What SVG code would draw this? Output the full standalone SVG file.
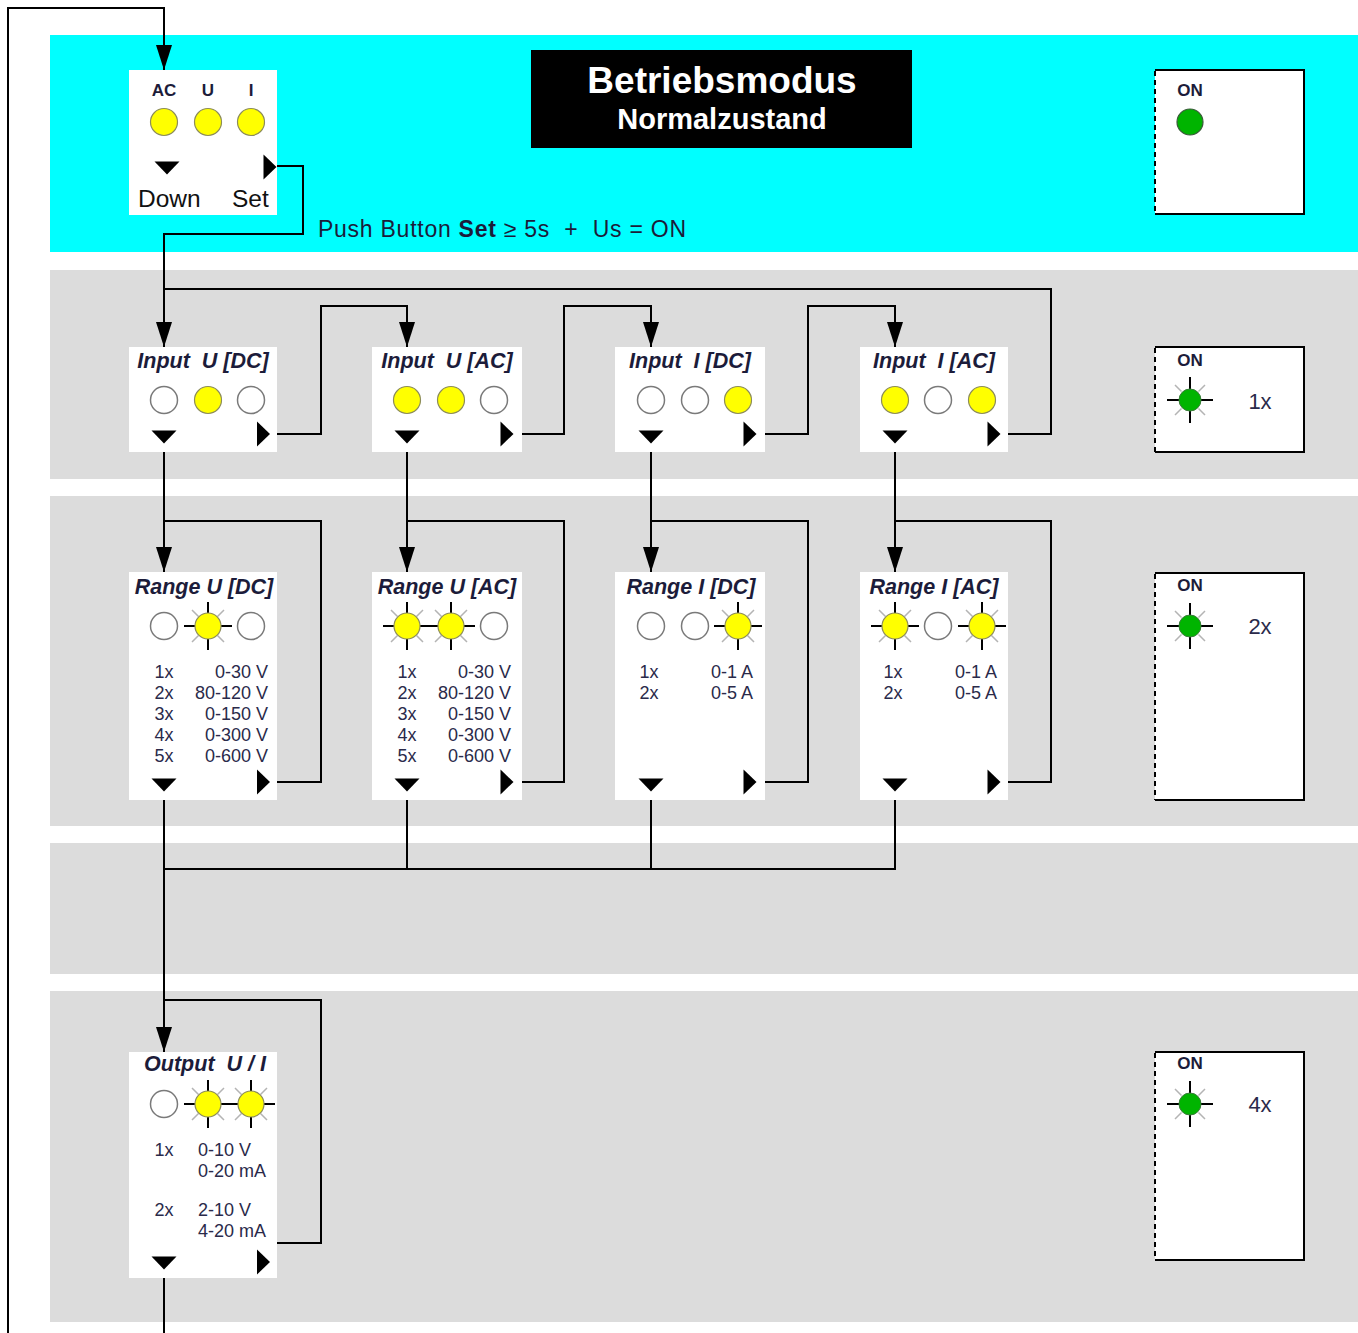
<svg xmlns="http://www.w3.org/2000/svg" xmlns:xlink="http://www.w3.org/1999/xlink" width="1358" height="1333" viewBox="0 0 1358 1333">
<style>
.band{fill:#dcdcdc}
.node{fill:#fff}
.conn{fill:none;stroke:#000;stroke-width:2}
.t{font-family:"Liberation Sans",Arial,sans-serif;fill:#1c1c3a}
.ttl{font-size:21.5px;font-weight:bold;font-style:italic;text-anchor:middle}
.row{font-size:18px;fill:#2a2a4a}
.mid{text-anchor:middle}
.end{text-anchor:end}
.on{font-size:17px;font-weight:bold;text-anchor:middle}
.cnt{font-size:22px;text-anchor:middle;fill:#2a2a4a}
.onbox{fill:#fff}
.solid{fill:none;stroke:#000;stroke-width:2}
.dash{fill:none;stroke:#000;stroke-width:2;stroke-dasharray:5,4}
</style>
<defs>
<marker id="arr" markerUnits="userSpaceOnUse" markerWidth="26" markerHeight="16" refX="25" refY="8" orient="auto">
<path d="M0,0 L25,8 L0,16 z" fill="#000"/>
</marker>
<g id="ledO"><circle r="13.5" fill="#fff" stroke="#7a7a7a" stroke-width="1.5"/></g>
<g id="ledY"><circle r="13.5" fill="#ffff00" stroke="#8c8c5a" stroke-width="1.2"/></g>
<g id="ledYB">
<path d="M9.5,-9.5 L16,-16 M-9.5,-9.5 L-16,-16 M9.5,9.5 L16,16 M-9.5,9.5 L-16,16" stroke="#b4b4b4" stroke-width="1.5"/>
<path d="M0,-13 V-24 M0,13 V24 M-13,0 H-24 M13,0 H24" stroke="#000" stroke-width="2"/>
<circle r="13" fill="#ffff00" stroke="#8c8c5a" stroke-width="1.2"/>
</g>
<g id="ledGB">
<path d="M8.5,-8.5 L15,-15 M-8.5,-8.5 L-15,-15 M8.5,8.5 L15,15 M-8.5,8.5 L-15,15" stroke="#b4b4b4" stroke-width="1.5"/>
<path d="M0,-11 V-23 M0,11 V23 M-11,0 H-23 M11,0 H23" stroke="#000" stroke-width="2"/>
<circle r="11" fill="#00b400" stroke="#3a7a3a" stroke-width="1"/>
</g>
<g id="ledG"><circle r="13" fill="#00b400" stroke="#3a5a3a" stroke-width="1.2"/></g>
<polygon id="triD" points="-12.5,-6.5 12.5,-6.5 0,6.5" fill="#000"/>
<polygon id="triR" points="-6.5,-12.5 -6.5,12.5 6.5,0" fill="#000"/>
</defs>

<rect width="1358" height="1333" fill="#fff"/>
<g id="bands">
<rect x="50" y="35" width="1308" height="217" fill="#00ffff"/>
<rect class="band" x="50" y="270" width="1308" height="209"/>
<rect class="band" x="50" y="496" width="1308" height="330"/>
<rect class="band" x="50" y="843" width="1308" height="131"/>
<rect class="band" x="50" y="991" width="1308" height="331"/>
</g>

<g id="title">
<rect x="531" y="50" width="381" height="98" fill="#000"/>
<text class="t" x="722" y="93" text-anchor="middle" font-size="37" font-weight="bold" style="fill:#fff">Betriebsmodus</text>
<text class="t" x="722" y="129" text-anchor="middle" font-size="29" font-weight="bold" style="fill:#fff">Normalzustand</text>
</g>

<text id="push-label" class="t" x="318" y="237" font-size="23" textLength="368" lengthAdjust="spacing" xml:space="preserve">Push Button <tspan font-weight="bold">Set</tspan> ≥ 5s  +  Us = ON</text>

<g id="connectors">
<path class="conn" d="M8,1333 V8 H164 V70" marker-end="url(#arr)"/>
<path class="conn" d="M277,166 H303 V234 H164 V347" marker-end="url(#arr)"/>
<path class="conn" d="M1008,434 H1051 V289 H164"/>
<path class="conn" d="M277,434 H321 V306 H407 V347" marker-end="url(#arr)"/>
<path class="conn" d="M522,434 H564 V306 H651 V347" marker-end="url(#arr)"/>
<path class="conn" d="M765,434 H808 V306 H895 V347" marker-end="url(#arr)"/>
<path class="conn" d="M164,452 V572" marker-end="url(#arr)"/>
<path class="conn" d="M407,452 V572" marker-end="url(#arr)"/>
<path class="conn" d="M651,452 V572" marker-end="url(#arr)"/>
<path class="conn" d="M895,452 V572" marker-end="url(#arr)"/>
<path class="conn" d="M277,782 H321 V521 H164"/>
<path class="conn" d="M522,782 H564 V521 H407"/>
<path class="conn" d="M765,782 H808 V521 H651"/>
<path class="conn" d="M1008,782 H1051 V521 H895"/>
<path class="conn" d="M164,800 V1052" marker-end="url(#arr)"/>
<path class="conn" d="M407,800 V869"/>
<path class="conn" d="M651,800 V869"/>
<path class="conn" d="M895,800 V869 H164"/>
<path class="conn" d="M277,1243 H321 V1000 H164"/>
<path class="conn" d="M164,1278 V1333"/>
</g>

<g id="node-start">
<rect class="node" x="129" y="70" width="148" height="145"/>
<text class="t on" x="164" y="96">AC</text>
<text class="t on" x="208" y="96">U</text>
<text class="t on" x="251" y="96">I</text>
<use href="#ledY" x="164" y="122"/>
<use href="#ledY" x="208" y="122"/>
<use href="#ledY" x="251" y="122"/>
<use href="#triD" x="167" y="168"/>
<use href="#triR" x="270" y="167"/>
<text class="t" x="138" y="207" font-size="24.5" style="fill:#111">Down</text>
<text class="t" x="232" y="207" font-size="24.5" style="fill:#111">Set</text>
</g>

<g id="on-box-0">
<rect class="onbox" x="1155" y="70" width="150" height="144"/>
<path class="solid" d="M1155,70 H1304 V214 H1155"/>
<path class="dash" d="M1155,71 V214"/>
<text class="t on" x="1190" y="96">ON</text>
<use href="#ledG" x="1190" y="122"/>
</g>

<g id="node-input-u-dc">
<rect class="node" x="129" y="347" width="148" height="105"/>
<text class="t ttl" x="203" y="368" xml:space="preserve">Input  U [DC]</text>
<use href="#ledO" x="164" y="400"/>
<use href="#ledY" x="208" y="400"/>
<use href="#ledO" x="251" y="400"/>
<use href="#triD" x="164" y="437"/>
<use href="#triR" x="263.5" y="434"/>
</g>
<g id="node-input-u-ac">
<rect class="node" x="372" y="347" width="150" height="105"/>
<text class="t ttl" x="447" y="368" xml:space="preserve">Input  U [AC]</text>
<use href="#ledY" x="407" y="400"/>
<use href="#ledY" x="451" y="400"/>
<use href="#ledO" x="494" y="400"/>
<use href="#triD" x="407" y="437"/>
<use href="#triR" x="507" y="434"/>
</g>
<g id="node-input-i-dc">
<rect class="node" x="615" y="347" width="150" height="105"/>
<text class="t ttl" x="690" y="368" xml:space="preserve">Input  I [DC]</text>
<use href="#ledO" x="651" y="400"/>
<use href="#ledO" x="695" y="400"/>
<use href="#ledY" x="738" y="400"/>
<use href="#triD" x="651" y="437"/>
<use href="#triR" x="750" y="434"/>
</g>
<g id="node-input-i-ac">
<rect class="node" x="860" y="347" width="148" height="105"/>
<text class="t ttl" x="934" y="368" xml:space="preserve">Input  I [AC]</text>
<use href="#ledY" x="895" y="400"/>
<use href="#ledO" x="938" y="400"/>
<use href="#ledY" x="982" y="400"/>
<use href="#triD" x="895" y="437"/>
<use href="#triR" x="994" y="434"/>
</g>

<g id="on-box-1">
<rect class="onbox" x="1155" y="347" width="150" height="105"/>
<path class="solid" d="M1155,347 H1304 V452 H1155"/>
<path class="dash" d="M1155,348 V452"/>
<text class="t on" x="1190" y="366">ON</text>
<use href="#ledGB" x="1190" y="400"/>
<text class="t cnt" x="1260" y="409">1x</text>
</g>

<g id="node-range-u-dc">
<rect class="node" x="129" y="572" width="148" height="228"/>
<text class="t ttl" x="204" y="594">Range U [DC]</text>
<use href="#ledO" x="164" y="626"/>
<use href="#ledYB" x="208" y="626"/>
<use href="#ledO" x="251" y="626"/>
<g class="t row">
<text class="mid" x="164" y="678">1x</text><text class="end" x="268" y="678">0-30 V</text>
<text class="mid" x="164" y="699">2x</text><text class="end" x="268" y="699">80-120 V</text>
<text class="mid" x="164" y="720">3x</text><text class="end" x="268" y="720">0-150 V</text>
<text class="mid" x="164" y="741">4x</text><text class="end" x="268" y="741">0-300 V</text>
<text class="mid" x="164" y="762">5x</text><text class="end" x="268" y="762">0-600 V</text>
</g>
<use href="#triD" x="164" y="785"/>
<use href="#triR" x="263.5" y="782"/>
</g>
<g id="node-range-u-ac">
<rect class="node" x="372" y="572" width="150" height="228"/>
<text class="t ttl" x="447" y="594">Range U [AC]</text>
<use href="#ledYB" x="407" y="626"/>
<use href="#ledYB" x="451" y="626"/>
<use href="#ledO" x="494" y="626"/>
<g class="t row">
<text class="mid" x="407" y="678">1x</text><text class="end" x="511" y="678">0-30 V</text>
<text class="mid" x="407" y="699">2x</text><text class="end" x="511" y="699">80-120 V</text>
<text class="mid" x="407" y="720">3x</text><text class="end" x="511" y="720">0-150 V</text>
<text class="mid" x="407" y="741">4x</text><text class="end" x="511" y="741">0-300 V</text>
<text class="mid" x="407" y="762">5x</text><text class="end" x="511" y="762">0-600 V</text>
</g>
<use href="#triD" x="407" y="785"/>
<use href="#triR" x="507" y="782"/>
</g>
<g id="node-range-i-dc">
<rect class="node" x="615" y="572" width="150" height="228"/>
<text class="t ttl" x="691" y="594">Range I [DC]</text>
<use href="#ledO" x="651" y="626"/>
<use href="#ledO" x="695" y="626"/>
<use href="#ledYB" x="738" y="626"/>
<g class="t row">
<text class="mid" x="649" y="678">1x</text><text class="end" x="753" y="678">0-1 A</text>
<text class="mid" x="649" y="699">2x</text><text class="end" x="753" y="699">0-5 A</text>
</g>
<use href="#triD" x="651" y="785"/>
<use href="#triR" x="750" y="782"/>
</g>
<g id="node-range-i-ac">
<rect class="node" x="860" y="572" width="148" height="228"/>
<text class="t ttl" x="934" y="594">Range I [AC]</text>
<use href="#ledYB" x="895" y="626"/>
<use href="#ledO" x="938" y="626"/>
<use href="#ledYB" x="982" y="626"/>
<g class="t row">
<text class="mid" x="893" y="678">1x</text><text class="end" x="997" y="678">0-1 A</text>
<text class="mid" x="893" y="699">2x</text><text class="end" x="997" y="699">0-5 A</text>
</g>
<use href="#triD" x="895" y="785"/>
<use href="#triR" x="994" y="782"/>
</g>

<g id="on-box-2">
<rect class="onbox" x="1155" y="573" width="150" height="227"/>
<path class="solid" d="M1155,573 H1304 V800 H1155"/>
<path class="dash" d="M1155,574 V800"/>
<text class="t on" x="1190" y="591">ON</text>
<use href="#ledGB" x="1190" y="626"/>
<text class="t cnt" x="1260" y="634">2x</text>
</g>

<g id="node-output">
<rect class="node" x="129" y="1052" width="148" height="226"/>
<text class="t ttl" x="205" y="1071" xml:space="preserve">Output  U / I</text>
<use href="#ledO" x="164" y="1104"/>
<use href="#ledYB" x="208" y="1104"/>
<use href="#ledYB" x="251" y="1104"/>
<g class="t row">
<text class="mid" x="164" y="1156">1x</text><text x="198" y="1156">0-10 V</text>
<text x="198" y="1177">0-20 mA</text>
<text class="mid" x="164" y="1216">2x</text><text x="198" y="1216">2-10 V</text>
<text x="198" y="1237">4-20 mA</text>
</g>
<use href="#triD" x="164" y="1263"/>
<use href="#triR" x="263.5" y="1262"/>
</g>

<g id="on-box-3">
<rect class="onbox" x="1155" y="1052" width="150" height="208"/>
<path class="solid" d="M1155,1052 H1304 V1260 H1155"/>
<path class="dash" d="M1155,1053 V1260"/>
<text class="t on" x="1190" y="1069">ON</text>
<use href="#ledGB" x="1190" y="1104"/>
<text class="t cnt" x="1260" y="1112">4x</text>
</g>
</svg>
